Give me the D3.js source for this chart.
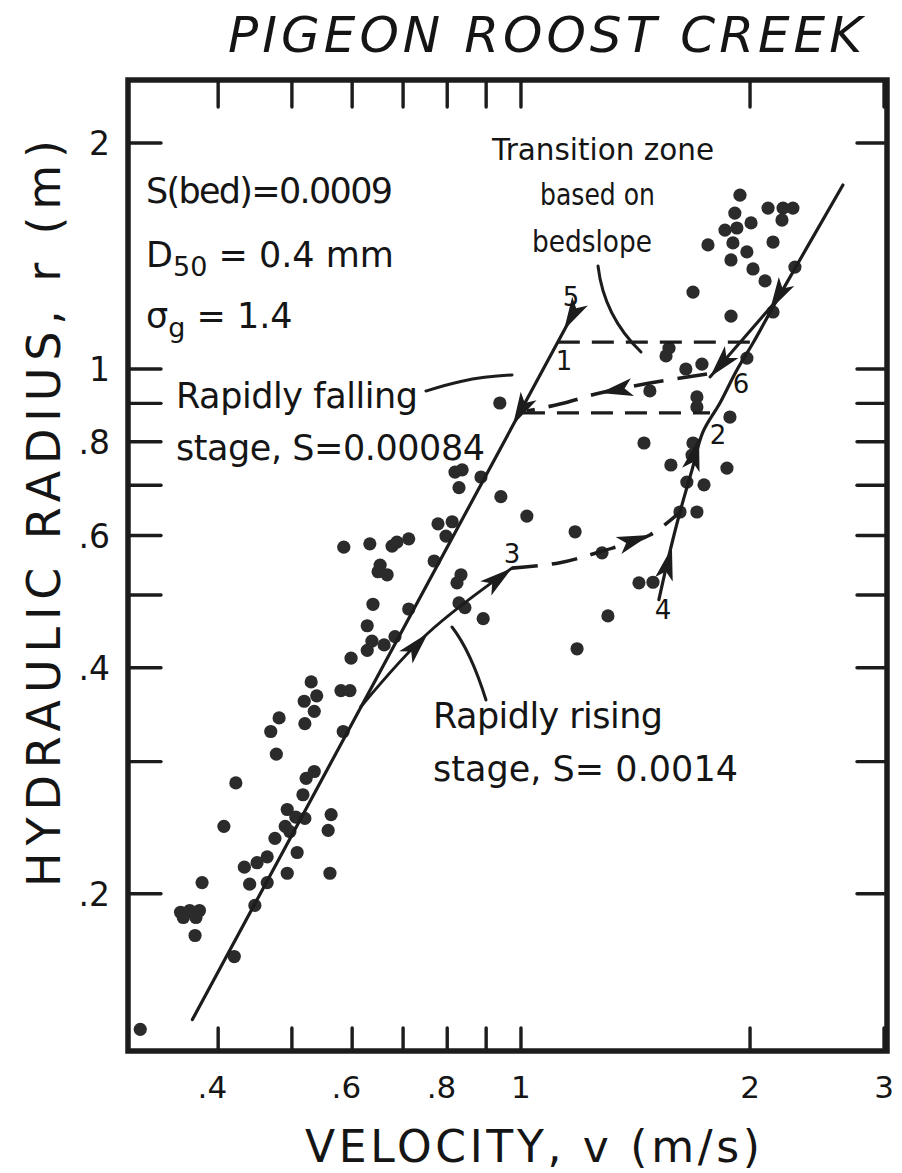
<!DOCTYPE html>
<html>
<head>
<meta charset="utf-8">
<script src="https://cdn.jsdelivr.net/npm/d3@7"></script>
<style>
  body { margin: 0; background: #fff; }
  svg { display: block; }
  text { font-family: "DejaVu Sans", "Liberation Sans", sans-serif; fill: #151515; }
</style>
</head>
<body>
<svg id="chart" width="902" height="1173"></svg>
<script>
// Observed stage data: mean velocity (m/s) and hydraulic radius (m)
const velocity = [0.357,0.367,0.378,0.360,0.374,0.373,0.381,0.420,0.407,0.422,
  0.447,0.440,0.433,0.450,0.464,0.464,0.475,0.490,0.497,0.493,
  0.506,0.520,0.508,0.493,0.517,0.522,0.535,0.563,0.558,0.561,
  0.584,0.469,0.477,0.481,0.519,0.539,0.535,0.520,0.530,0.316,
  0.580,0.596,0.598,0.628,0.637,0.661,0.683,0.628,0.639,0.712,
  0.653,0.649,0.667,0.585,0.633,0.677,0.687,0.712,0.769,0.834,
  0.824,0.829,0.844,0.892,0.778,0.812,0.797,0.819,0.837,0.829,
  0.886,0.941,1.018,0.938,1.178,1.185,1.278,1.301,1.429,1.491,
  1.451,1.683,1.678,1.574,1.865,1.652,1.740,1.618,1.703,1.477,
  1.703,1.703,1.882,1.647,1.729,1.981,1.565,1.551,1.683,1.888,
  2.144,2.093,2.018,1.888,2.291,1.761,1.899,1.981,2.144,1.854,
  1.922,2.006,1.910,1.940,2.112,2.210,2.277,2.203];
const radius = [0.189,0.190,0.190,0.186,0.186,0.176,0.207,0.165,0.246,0.281,
  0.193,0.206,0.217,0.220,0.224,0.207,0.237,0.246,0.242,0.259,
  0.253,0.252,0.227,0.213,0.271,0.285,0.291,0.255,0.243,0.213,
  0.329,0.329,0.307,0.343,0.361,0.367,0.350,0.337,0.383,0.132,
  0.373,0.373,0.412,0.422,0.434,0.429,0.440,0.455,0.486,0.479,
  0.548,0.537,0.532,0.579,0.585,0.581,0.588,0.594,0.555,0.532,
  0.519,0.488,0.481,0.465,0.622,0.626,0.599,0.729,0.734,0.695,
  0.718,0.676,0.637,0.901,0.607,0.424,0.569,0.469,0.519,0.520,
  0.797,0.797,0.768,0.745,0.738,0.707,0.701,0.645,0.645,0.935,
  0.918,0.890,0.863,1.000,1.015,1.034,1.066,1.041,1.266,1.176,
  1.191,1.310,1.359,1.397,1.367,1.463,1.472,1.432,1.476,1.531,
  1.541,1.565,1.613,1.704,1.638,1.638,1.638,1.579];

// Rating curves
const fallingV = [0.370, 1.178];          // rapidly falling stage (5 -> 1 -> down)
const fallingR = [0.136, 1.198];
const rightV = [1.518, 1.560, 1.618, 1.678, 1.734, 1.826, 1.922, 2.018, 2.170, 2.649];
const rightR = [0.493, 0.557, 0.645, 0.734, 0.824, 0.901, 0.997, 1.083, 1.236, 1.758];
const recessV = [2.170, 1.772];           // branch down to 6
const recessR = [1.236, 0.976];
const risingV = [0.616, 0.755, 0.973];    // rapidly rising stage up to 3
const risingR = [0.355, 0.445, 0.543];
const risingDashV = [0.973, 1.125, 1.270, 1.477, 1.618];
const risingDashR = [0.543, 0.552, 0.571, 0.601, 0.645];
const crossV = [1.756, 1.477, 1.270, 1.125, 1.018]; // 6 -> 1
const crossR = [0.985, 0.958, 0.929, 0.898, 0.879];
// Transition zone based on bedslope
const zoneR = [1.086, 0.874];
const zoneStartV = [1.118, 1.006];
const zoneEndV = [2.0, 1.772];

// Arrowheads: tip and a point behind it on the same curve
const arrowTipV  = [1.139, 0.976, 0.755, 0.973, 1.477, 1.579, 1.714, 2.124, 1.772, 1.270];
const arrowTipR  = [1.127, 0.842, 0.445, 0.543, 0.601, 0.579, 0.809, 1.198, 0.976, 0.929];
const arrowBackV = [1.178, 1.178, 0.616, 0.755, 1.270, 1.518, 1.618, 2.649, 2.170, 1.756];
const arrowBackR = [1.198, 1.198, 0.355, 0.445, 0.571, 0.493, 0.645, 1.758, 1.236, 0.985];

// Numbered states on the loop
const stateLabels = ["1", "2", "3", "4", "5", "6"];

// Axis ticks
const xTicks = [0.4, 0.5, 0.6, 0.7, 0.8, 0.9, 1, 2, 3];
const xTickLabels = [".4", "", ".6", "", ".8", "", "1", "2", "3"];
const yTicks = [0.2, 0.3, 0.4, 0.5, 0.6, 0.7, 0.8, 0.9, 1, 2];
const yTickLabels = [".2", "", ".4", "", ".6", "", ".8", "", "1", "2"];

const svg = d3.select("#chart");
const L = 128, R = 887, T = 80, B = 1051;
const x = d3.scaleLog().domain([0.3045, 3.027]).range([L, R]);
const y = d3.scaleLog().domain([0.1235, 2.426]).range([B, T]);
const ink = "#1c1c1c";

// Title
svg.append("text").attr("x", 228).attr("y", 52)
  .attr("font-size", 50).attr("font-style", "italic")
  .attr("textLength", 634).attr("lengthAdjust", "spacing")
  .text("PIGEON  ROOST  CREEK");

// Ticks (inward on all four sides)
const tk = svg.append("g").attr("stroke", ink).attr("stroke-width", 3.4).attr("stroke-linecap", "round");
xTicks.forEach(v => {
  tk.append("line").attr("x1", x(v)).attr("x2", x(v)).attr("y1", B).attr("y2", B - 23);
  tk.append("line").attr("x1", x(v)).attr("x2", x(v)).attr("y1", T).attr("y2", T + 27);
});
yTicks.forEach(r => {
  tk.append("line").attr("x1", L).attr("x2", L + 33).attr("y1", y(r)).attr("y2", y(r));
  tk.append("line").attr("x1", R).attr("x2", R - 30).attr("y1", y(r)).attr("y2", y(r));
});

// Frame
svg.append("rect").attr("x", L).attr("y", T).attr("width", R - L).attr("height", B - T)
  .attr("fill", "none").attr("stroke", ink).attr("stroke-width", 5.5);

// Tick labels
xTicks.forEach((v, i) => {
  const s = xTickLabels[i];
  if (!s) return;
  const dotted = s.startsWith(".");
  svg.append("text").attr("x", dotted ? x(v) + 9 : x(v)).attr("y", 1098)
    .attr("text-anchor", dotted ? "end" : "middle").attr("font-size", 31).text(s);
});
yTicks.forEach((r, i) => {
  const s = yTickLabels[i];
  if (!s) return;
  svg.append("text").attr("x", 110).attr("y", y(r) + 12)
    .attr("text-anchor", "end").attr("font-size", 33).text(s);
});

// Axis titles
svg.append("text").attr("x", 305).attr("y", 1162).attr("font-size", 44)
  .attr("textLength", 455).attr("lengthAdjust", "spacing")
  .text("VELOCITY, v (m/s)");
svg.append("text").attr("transform", "translate(60,887) rotate(-90)")
  .attr("font-size", 46).attr("textLength", 747).attr("lengthAdjust", "spacing")
  .text("HYDRAULIC RADIUS, r (m)");

// Data points
svg.append("g").selectAll("circle").data(velocity).join("circle")
  .attr("cx", (v) => x(v)).attr("cy", (v, i) => y(radius[i]))
  .attr("r", 6.6).attr("fill", "#2b2b2b");

const pts = (vs, rs) => vs.map((v, i) => [x(v), y(rs[i])]);
const straight = d3.line();
const smooth = d3.line().curve(d3.curveCatmullRom.alpha(0.5));

const curves = svg.append("g").attr("fill", "none").attr("stroke", ink)
  .attr("stroke-linecap", "round").attr("stroke-linejoin", "round");
curves.append("path").attr("d", straight(pts(fallingV, fallingR))).attr("stroke-width", 3.2);
curves.append("path").attr("d", smooth(pts(rightV, rightR))).attr("stroke-width", 3.2);
curves.append("path").attr("d", straight(pts(recessV, recessR))).attr("stroke-width", 3);
curves.append("path").attr("d", smooth(pts(risingV, risingR))).attr("stroke-width", 3);
curves.append("path").attr("d", smooth(pts(risingDashV, risingDashR))).attr("stroke-width", 3.6)
  .attr("stroke-dasharray", "26 14").attr("stroke-linecap", "butt");
curves.append("path").attr("d", smooth(pts(crossV, crossR))).attr("stroke-width", 3.6)
  .attr("stroke-dasharray", "30 14").attr("stroke-linecap", "butt");
zoneR.forEach((r, i) => {
  curves.append("path").attr("d", straight([[x(zoneStartV[i]), y(r)], [x(zoneEndV[i]), y(r)]]))
    .attr("stroke-width", 3.2).attr("stroke-dasharray", "22 12").attr("stroke-linecap", "butt");
});

// Arrowheads
arrowTipV.forEach((v, i) => {
  const tx = x(v), ty = y(arrowTipR[i]);
  const bx = x(arrowBackV[i]), by = y(arrowBackR[i]);
  const ang = Math.atan2(ty - by, tx - bx) * 180 / Math.PI;
  svg.append("path").attr("d", "M0,0 L-33,-9 L-25,0 L-33,9 Z")
    .attr("fill", ink).attr("transform", `translate(${tx},${ty}) rotate(${ang})`);
});

// Loop state numbers
const statePos = [[564, 370], [718, 444], [512, 563], [663, 619], [571, 306], [741, 393]];
stateLabels.forEach((s, i) => {
  svg.append("text").attr("x", statePos[i][0]).attr("y", statePos[i][1])
    .attr("text-anchor", "middle").attr("font-size", 26).text(s);
});

// Annotations
function note(txt, x0, y0, w, fs, adj) {
  return svg.append("text").attr("x", x0).attr("y", y0).attr("font-size", fs || 35)
    .attr("textLength", w).attr("lengthAdjust", adj || "spacing").text(txt);
}
note("S(bed)=0.0009", 146, 203, 247);
const d50 = svg.append("text").attr("x", 146).attr("y", 267).attr("font-size", 35);
d50.append("tspan").text("D");
d50.append("tspan").attr("font-size", 27).attr("dy", 9).text("50");
d50.append("tspan").attr("dy", -9).text(" = 0.4 mm");
const sg = svg.append("text").attr("x", 146).attr("y", 328).attr("font-size", 35);
sg.append("tspan").text("σ");
sg.append("tspan").attr("font-size", 27).attr("dy", 9).text("g");
sg.append("tspan").attr("dy", -9).text("  = 1.4");

note("Transition zone", 492, 160, 222, 31, "spacingAndGlyphs");
note("based on", 540, 205, 115, 31, "spacingAndGlyphs");
note("bedslope", 532, 252, 120, 31, "spacingAndGlyphs");
note("Rapidly falling", 176, 408, 242);
note("stage, S=0.00084", 176, 460, 309);
note("Rapidly rising", 433, 728, 230);
note("stage, S= 0.0014", 433, 781, 305);

// Leader lines
const leaders = svg.append("g").attr("fill", "none").attr("stroke", ink).attr("stroke-width", 3)
  .attr("stroke-linecap", "round");
leaders.append("path").attr("d", "M598,266 C602,300 616,328 641,352");
leaders.append("path").attr("d", "M426,391 C445,385 470,377 512,375");
leaders.append("path").attr("d", "M452,627 C466,645 476,668 486,700");
</script>
</body>
</html>
